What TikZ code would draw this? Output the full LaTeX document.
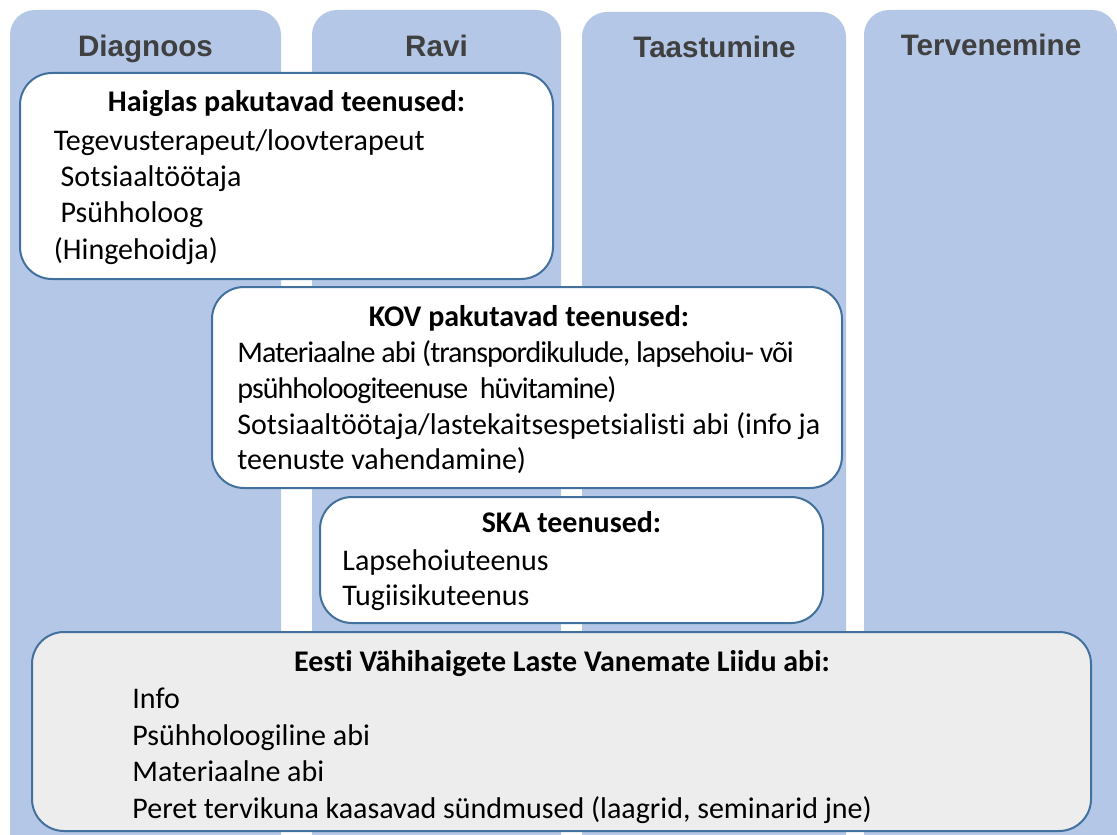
\documentclass[tikz,border=0pt]{standalone}
\usepackage{fontspec}
\setmainfont{Carlito}[Ligatures=NoCommon]
\newfontfamily\headfont{Liberation Sans}
\newcommand{\tightline}{\addfontfeature{LetterSpace=-3.3}}
\definecolor{phasefill}{HTML}{B4C7E7}
\definecolor{boxline}{HTML}{41719C}
\definecolor{headgrey}{HTML}{404040}
\definecolor{liitfill}{HTML}{EDEDED}
\tikzset{
  phase/.style={fill=phasefill, rounded corners=12.5pt},
  phasehead/.style={font=\headfont\bfseries\fontsize{14.8}{17}\selectfont, text=headgrey, anchor=base, inner sep=0pt},
  servicebox/.style={draw=boxline, line width=1pt, fill=white, rounded corners=16pt, inner sep=0pt},
  boxtitle/.style={font=\bfseries\fontsize{15}{18}\selectfont, anchor=base, inner sep=0pt},
  boxitem/.style={font=\fontsize{15}{18}\selectfont, anchor=base west, inner sep=0pt},
}
\begin{document}
\begin{tikzpicture}[x=0.5pt,y=-0.5pt]
  \useasboundingbox (0,0) rectangle (1117,834);
  \clip (0,0) rectangle (1117,834);
  % phases
  \fill[phase] (10,10) rectangle (281,870);
  \fill[phase] (312,10) rectangle (561,870);
  \fill[phase] (582,12) rectangle (846,870);
  \fill[phase] (864,10) rectangle (1117,870);
  \node[phasehead] (diagnoos) at (145.5,57) {Diagnoos};
  \node[phasehead] (ravi) at (436.5,57) {Ravi};
  \node[phasehead] (taastumine) at (714.5,58) {Taastumine};
  \node[phasehead] (tervenemine) at (991,56) {Tervenemine};
  % hospital
  \node[servicebox, minimum width=266.5pt, minimum height=103pt] (haigla) at (286.5,176) {};
  \node[boxtitle] (haiglatitle) at (286.5,112) {Haiglas pakutavad teenused:};
  \foreach \txt [count=\i from 0] in {Tegevusterapeut/loovterapeut, {\ Sotsiaaltöötaja}, {\ Psühholoog}, (Hingehoidja)}
    \node[boxitem] (haigla-\i) at (53.5,150.5+36.2*\i) {\txt};
  % KOV
  \node[servicebox, minimum width=315pt, minimum height=100.5pt] (kov) at (527,387.5) {};
  \node[boxtitle] (kovtitle) at (529,326.5) {KOV pakutavad teenused:};
  \foreach \txt [count=\i from 0] in {{\tightline Materiaalne abi (transpordikulude, lapsehoiu- või}, {\tightline psühholoogiteenuse\ \ hüvitamine)}, {Sotsiaaltöötaja/lastekaitsespetsialisti abi (info ja}, teenuste vahendamine)}
    \node[boxitem] (kov-\i) at (237,362.5+35.8*\i) {\txt};
  % SKA
  \node[servicebox, minimum width=251.5pt, minimum height=63pt] (ska) at (571.5,560) {};
  \node[boxtitle] (skatitle) at (571.5,532) {SKA teenused:};
  \foreach \txt [count=\i from 0] in {Lapsehoiuteenus, Tugiisikuteenus}
    \node[boxitem] (ska-\i) at (342,570+35*\i) {\txt};
  % union
  \node[servicebox, fill=liitfill, minimum width=529.5pt, minimum height=99.5pt] (liit) at (561.5,731.5) {};
  \node[boxtitle] (liittitle) at (562,671.5) {Eesti Vähihaigete Laste Vanemate Liidu abi:};
  \foreach \txt [count=\i from 0] in {Info, Psühholoogiline abi, Materiaalne abi}
    \node[boxitem] (liit-\i) at (132,708.3+36.7*\i) {\txt};
  \begin{scope}
    \clip (32,632) rectangle (1091,823);
    \node[boxitem] (liit-3) at (132,818.4) {Peret tervikuna kaasavad sündmused (laagrid, seminarid jne)};
  \end{scope}
\end{tikzpicture}
\end{document}
